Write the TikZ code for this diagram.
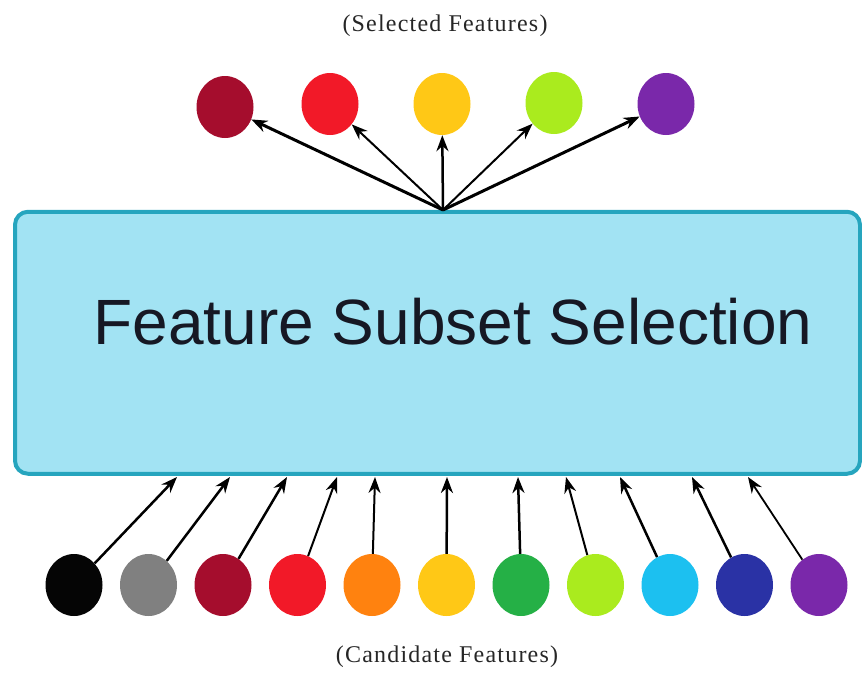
\documentclass[tikz,border=0pt]{standalone}
\usepackage{fontspec}
\setmainfont{Liberation Serif}
\newfontfamily\titlefont{Liberation Sans}
\newfontfamily\labelfont[LetterSpace=5]{Liberation Serif}
\usetikzlibrary{shapes.geometric,arrows.meta}
\definecolor{cDarkRed}{RGB}{165,13,45}
\definecolor{cRed}{RGB}{242,25,40}
\definecolor{cYellow}{RGB}{255,200,22}
\definecolor{cLime}{RGB}{170,235,30}
\definecolor{cPurple}{RGB}{122,40,170}
\definecolor{cBlack}{RGB}{5,5,5}
\definecolor{cGray}{RGB}{128,128,128}
\definecolor{cOrange}{RGB}{255,130,15}
\definecolor{cGreen}{RGB}{37,176,70}
\definecolor{cCyan}{RGB}{28,192,240}
\definecolor{cDarkBlue}{RGB}{42,50,165}
\definecolor{boxFill}{RGB}{162,227,243}
\definecolor{boxLine}{RGB}{38,165,190}
\definecolor{titleInk}{RGB}{22,24,36}
\begin{document}
\begin{tikzpicture}[x=1pt,y=-1pt,
  feat/.style={ellipse,minimum width=57pt,minimum height=62pt,inner sep=0pt,fill=#1},
  arr/.style={draw=black,line width=#1,-{Stealth[length=16pt,width=12pt]}},
  arr/.default=2pt,
  caption/.style={font=\labelfont\fontsize{24}{27}\selectfont,text=black!85}]
\useasboundingbox (0,0) rectangle (862,673);
% main box
\node[draw=boxLine,fill=boxFill,line width=4pt,rounded corners=13pt,
  minimum width=845pt,minimum height=262pt,inner sep=0pt] (box) at (437.5,342.75) {};
\node[font=\titlefont\fontsize{64}{70}\selectfont,text=titleInk,anchor=base] (title) at (453,344) {Feature Subset Selection};
% captions
\node[caption] (sel) at (445,26) {(Selected Features)};
\node[caption] (cand) at (447,657) {(Candidate Features)};
% selected features
\node[feat=cDarkRed] (s1) at (225,107) {};
\node[feat=cRed] (s2) at (330,104) {};
\node[feat=cYellow] (s3) at (442,104) {};
\node[feat=cLime] (s4) at (554,103) {};
\node[feat=cPurple] (s5) at (666,104) {};
\coordinate (hub) at (443,210);
\draw[arr=3pt] (hub) -- (s1);
\draw[arr=2pt] (hub) -- (s2);
\draw[arr=2.5pt] (hub) -- (s3);
\draw[arr=2pt] (hub) -- (s4);
\draw[arr=3pt] (hub) -- (s5);
% candidate features
\foreach \i/\c/\tx in {1/cBlack/177,2/cGray/230,3/cDarkRed/287,4/cRed/337,5/cOrange/375,6/cYellow/447,7/cGreen/518,8/cLime/566,9/cCyan/620,10/cDarkBlue/692,11/cPurple/748}{
  \node[feat=\c] (c\i) at ({74+74.5*(\i-1)},585) {};
  \coordinate (b\i) at (\tx,477);
}
\foreach \i/\w in {1/2.5pt,2/2.5pt,3/2.5pt,4/2pt,5/2pt,6/2.5pt,7/2.5pt,8/2pt,9/2.5pt,10/2.5pt,11/1.8pt}{
  \draw[arr=\w] (c\i) -- (b\i);
}
\end{tikzpicture}
\end{document}
